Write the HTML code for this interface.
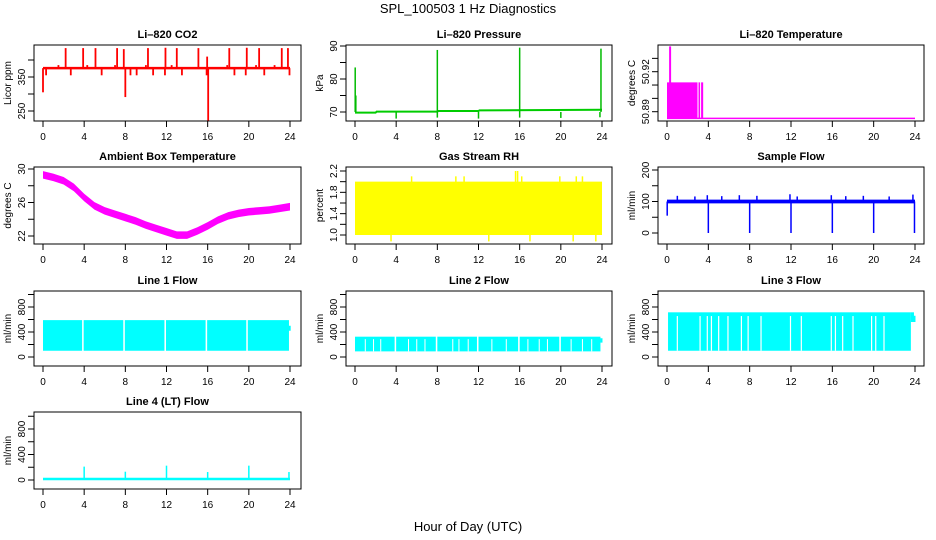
<!DOCTYPE html>
<html><head><meta charset="utf-8"><style>
html,body{margin:0;padding:0;background:#fff;}
svg{display:block;font-family:"Liberation Sans",sans-serif;}
</style></head><body>
<svg id="chart" width="936" height="540" viewBox="0 0 936 540" xmlns="http://www.w3.org/2000/svg">
<text x="468" y="13" text-anchor="middle" font-size="13">SPL_100503  1 Hz Diagnostics</text>
<text x="468" y="531" text-anchor="middle" font-size="13">Hour of Day (UTC)</text>
</svg>
<script>
// ---------- data ----------
const xTicks = [0,4,8,12,16,20,24];
// CO2
const co2BaseHours = [0,24];
const co2BaseVals = [376,376];
const co2SpikeHours = [0.0,2.2,3.9,5.1,7.2,7.85,10.2,11.9,13.0,15.1,15.95,16.05,18.1,19.8,21.0,23.2,23.8,0.3,2.7,5.7,8.0,8.5,9.1,10.7,11.85,13.5,15.9,18.6,19.7,21.5,23.95,1.5,4.3,7.0,10.0,12.5,17.9,20.7,22.5];
const co2SpikeVals  = [305,435,435,435,435,432,435,436,435,435,410,221,435,436,435,435,435,355,355,355,291,355,355,355,355,355,355,355,355,355,355,385,385,385,385,385,385,385,385];
// Pressure
const presHours = [0,2,2.1,8,8.1,12,12.1,24];
const presVals  = [69.8,69.8,70.1,70.1,70.3,70.3,70.5,70.7];
const presSpikeHours = [0.02,0.08,8.0,16.0,23.9,4.0,8.0,12.0,16.0,20.0,23.8];
const presSpikeVals  = [83.5,75,88.8,89.5,89.2,68,68.3,68,68.3,68.2,68.4];
// Li-820 temperature
const tempBaseHours = [0,24];
const tempBaseVals = [50.885,50.885];
const tempBlockStart = [0.0,3.05,3.3];
const tempBlockEnd   = [2.95,3.2,3.5];
const tempBlockVals  = [50.912,50.912,50.912];
const tempSpikeHours = [0.3];
const tempSpikeVals = [50.939];
// Ambient box temperature
const ambHours = [0,1,2,3,4,5,6,7,8,9,10,11,12,13,14,15,16,17,18,19,20,21,22,23,24];
const ambVals  = [29.3,29.0,28.6,27.8,26.6,25.6,25.0,24.6,24.2,23.8,23.3,22.9,22.5,22.1,22.1,22.6,23.2,23.9,24.4,24.7,24.9,25.0,25.1,25.3,25.5];
// Gas stream RH
const rhHours = [0,24];
const rhHigh = [2.0,2.0];
const rhLow  = [1.0,1.0];
const rhSpikeHours = [3.5,5.5,9.8,10.6,15.6,15.8,16.2,21.2,21.5,22.1,23.4,13.0,17.0,19.9];
const rhSpikeVals  = [0.88,2.1,2.1,2.1,2.2,2.2,2.1,0.88,2.1,2.1,0.88,0.88,0.88,2.1];
// Sample flow
const sfHours = [0,24];
const sfHigh = [106,106];
const sfLow  = [94,94];
const sfDipHours = [0.02,4.0,8.0,12.0,16.0,20.0,23.95];
const sfDipVals  = [55,0,0,0,0,0,0];
const sfSpikeHours = [1.0,2.7,3.9,5.3,7.0,8.7,11.9,12.6,15.9,17.3,19.0,21.5,23.8];
const sfSpikeVals  = [118,116,120,117,120,118,123,116,120,117,118,116,122];
// Line flows
const l1Starts = [0.0,3.95,7.95,11.95,15.95,19.9];
const l1Ends   = [3.8,7.8,11.8,15.8,19.75,23.9];
const l1High = 590, l1Low = 100;
const l2Starts = [0.0,4.0,8.0,12.0,16.0,20.0];
const l2Ends   = [3.85,7.85,11.85,15.85,19.85,23.85];
const l2High = 325, l2Low = 90;
const l2Gaps = [1.0,1.8,2.5,5.2,6.0,6.8,9.5,10.1,11.0,13.3,14.7,16.8,17.9,18.7,21.0,22.1,23.0];
const l3Starts = [0.1];
const l3Ends   = [23.6];
const l3High = 715, l3Low = 100;
const l3Gaps = [1.0,3.2,3.9,4.3,5.0,5.9,7.2,7.85,9.1,11.95,13.0,15.9,16.3,17.0,18.0,19.8,20.2,21.0];
const l4SpikeHours = [4.0,8.0,12.0,16.0,20.0,23.9];
const l4SpikeVals  = [210,130,225,125,225,125];
const l4Base = 15;

// ---------- layout ----------
const NS='http://www.w3.org/2000/svg';
const svg=document.getElementById('chart');
const cols=[{l:34,r:301,x0:43,x24:290},{l:346,r:612,x0:355,x24:602},{l:658,r:924,x0:667,x24:915}];
const rows=[{t:45,b:121},{t:167,b:244},{t:291,b:366},{t:412,b:489}];
function el(tag,attrs,parent){const e=document.createElementNS(NS,tag);for(const k in attrs)e.setAttribute(k,attrs[k]);(parent||svg).appendChild(e);return e;}
let clipId=0;
function panel(name,title,ylab,c,r,cal,ticks,labels,fmt){
  const C=cols[c],R=rows[r];
  const g=el('g',{});
  
  
  const xs=v=>C.x0+(C.x24-C.x0)*v/24;
  const ys=v=>cal[1]+(v-cal[0])*(cal[3]-cal[1])/(cal[2]-cal[0]);
  const t=el('text',{x:(C.l+C.r)/2,y:R.t-7,'text-anchor':'middle','font-size':'11','font-weight':'bold'},g);
  t.textContent=title;
  
  
  const yl=el('text',{x:0,y:0,'text-anchor':'middle','font-size':'10',transform:`translate(${C.l-23},${(R.t+R.b)/2}) rotate(-90)`},g);
  yl.textContent=ylab;
  
  
  clipId++;
  const cp=el('clipPath',{id:'cp'+clipId},g);
  el('rect',{x:C.l,y:R.t,width:C.r-C.l,height:R.b-R.t},cp);
  const dg=el('g',{'clip-path':`url(#cp${clipId})`},g);
  
  
  const box=el('rect',{x:C.l,y:R.t,width:C.r-C.l,height:R.b-R.t,fill:'none',stroke:'#000','stroke-width':1},g);
  
  
  xTicks.forEach(v=>{
    el('line',{x1:xs(v),x2:xs(v),y1:R.b,y2:R.b+6,stroke:'#000'},g);
    const tx=el('text',{x:xs(v),y:R.b+19,'text-anchor':'middle','font-size':'10'},g);
    tx.textContent=v;
    
    
  });
  ticks.forEach(v=>{el('line',{x1:C.l-6,x2:C.l,y1:ys(v),y2:ys(v),stroke:'#000'},g);});
  labels.forEach(v=>{
    const tx=el('text',{x:0,y:0,'text-anchor':'middle','font-size':'10',transform:`translate(${C.l-9},${ys(v)}) rotate(-90)`},g);
    tx.textContent=fmt?fmt(v):v;
    
    
  });
  return {xs,ys,g:dg};
}
function vline(p,x,v1,v2,col,w){el('line',{x1:p.xs(x),x2:p.xs(x),y1:p.ys(v1),y2:p.ys(v2),stroke:col,'stroke-width':w||1.5},p.g);}
function polyline(p,hs,vs,col,w){el('polyline',{points:hs.map((h,i)=>p.xs(h)+','+p.ys(vs[i])).join(' '),fill:'none',stroke:col,'stroke-width':w},p.g);}
function band(p,hs,hi,lo,col){
  const pts=hs.map((h,i)=>p.xs(h)+','+p.ys(hi[i])).concat(hs.slice().reverse().map((h,j)=>{const i=hs.length-1-j;return p.xs(h)+','+p.ys(lo[i]);}));
  el('polygon',{points:pts.join(' '),fill:col},p.g);
}
function rectBand(p,s,e,hi,lo,col){el('rect',{x:p.xs(s),y:p.ys(hi),width:p.xs(e)-p.xs(s),height:p.ys(lo)-p.ys(hi),fill:col},p.g);}

// CO2
let p=panel('co2','Li\u2013820 CO2','Licor ppm',0,0,[250,111,350,77],[250,300,350,400],[250,350]);
polyline(p,co2BaseHours,co2BaseVals,'#ff0000',2.5);
co2SpikeHours.forEach((h,i)=>vline(p,h,co2BaseVals[0],co2SpikeVals[i],'#ff0000',1.8));
// Pressure
p=panel('pressure','Li\u2013820 Pressure','kPa',1,0,[70,112,90,46],[70,75,80,85,90],[70,80,90]);
polyline(p,presHours,presVals,'#00cc00',2);
presSpikeHours.forEach((h,i)=>vline(p,h,70,presSpikeVals[i],'#00bb00',1.5));
// Temp
p=panel('li820-temp','Li\u2013820 Temperature','degrees C',2,0,[50.89,111.7,50.92,71.7],[50.89,50.90,50.91,50.92,50.93],[50.89,50.92],v=>v.toFixed(2));
polyline(p,tempBaseHours,tempBaseVals,'#ff00ff',1.5);
tempBlockStart.forEach((s,i)=>rectBand(p,s,tempBlockEnd[i],tempBlockVals[i],tempBaseVals[0],'#ff00ff'));
tempSpikeHours.forEach((h,i)=>vline(p,h,tempBaseVals[0],tempSpikeVals[i],'#ff00ff',2));
// Ambient
p=panel('ambient-temp','Ambient Box Temperature','degrees C',0,1,[22,236,30,169],[22,24,26,28,30],[22,26,30]);
band(p,ambHours,ambVals.map(v=>v+0.45),ambVals.map(v=>v-0.45),'#ff00ff');
// RH
p=panel('gas-rh','Gas Stream RH','percent',1,1,[1.0,235,2.2,171],[1.0,1.2,1.4,1.6,1.8,2.0,2.2],[1.0,1.4,1.8,2.2],v=>v.toFixed(1));
band(p,rhHours,rhHigh,rhLow,'#ffff00');
rhSpikeHours.forEach((h,i)=>vline(p,h,1.5,rhSpikeVals[i],'#ffff00',1.5));
// Sample flow
p=panel('sample-flow','Sample Flow','ml/min',2,1,[0,233,200,170],[0,50,100,150,200],[0,100,200]);
band(p,sfHours,sfHigh,sfLow,'#0000ff');
sfDipHours.forEach((h,i)=>vline(p,h,100,sfDipVals[i],'#0000ff',1.5));
sfSpikeHours.forEach((h,i)=>vline(p,h,100,sfSpikeVals[i],'#0000ff',1.5));
// Line flows
const flowTicks=[0,200,400,600,800,1000], flowLabels=[0,400,800];
p=panel('line1-flow','Line 1 Flow','ml/min',0,2,[0,357,800,307],flowTicks,flowLabels);
l1Starts.forEach((s,i)=>rectBand(p,s,l1Ends[i],l1High,l1Low,'#00ffff'));
vline(p,23.97,500,420,'#00ffff',2);
p=panel('line2-flow','Line 2 Flow','ml/min',1,2,[0,357,800,307],flowTicks,flowLabels);
l2Starts.forEach((s,i)=>rectBand(p,s,l2Ends[i],l2High,l2Low,'#00ffff'));
l2Gaps.forEach(h=>vline(p,h,l2High-40,l2Low,'#ffffff',1));
vline(p,23.95,300,230,'#00ffff',2);
p=panel('line3-flow','Line 3 Flow','ml/min',2,2,[0,357,800,307],flowTicks,flowLabels);
l3Starts.forEach((s,i)=>rectBand(p,s,l3Ends[i],l3High,l3Low,'#00ffff'));
rectBand(p,23.6,23.9,l3High,560,'#00ffff');
l3Gaps.forEach(h=>vline(p,h,l3High-60,l3Low,'#ffffff',1.2));
vline(p,23.95,660,560,'#00ffff',2);
p=panel('line4-flow','Line 4 (LT) Flow','ml/min',0,3,[0,480,800,429],flowTicks,flowLabels);
polyline(p,[0,24],[l4Base,l4Base],'#00ffff',2.5);
l4SpikeHours.forEach((h,i)=>vline(p,h,l4Base,l4SpikeVals[i],'#00ffff',1.5));
</script>
</body></html>
